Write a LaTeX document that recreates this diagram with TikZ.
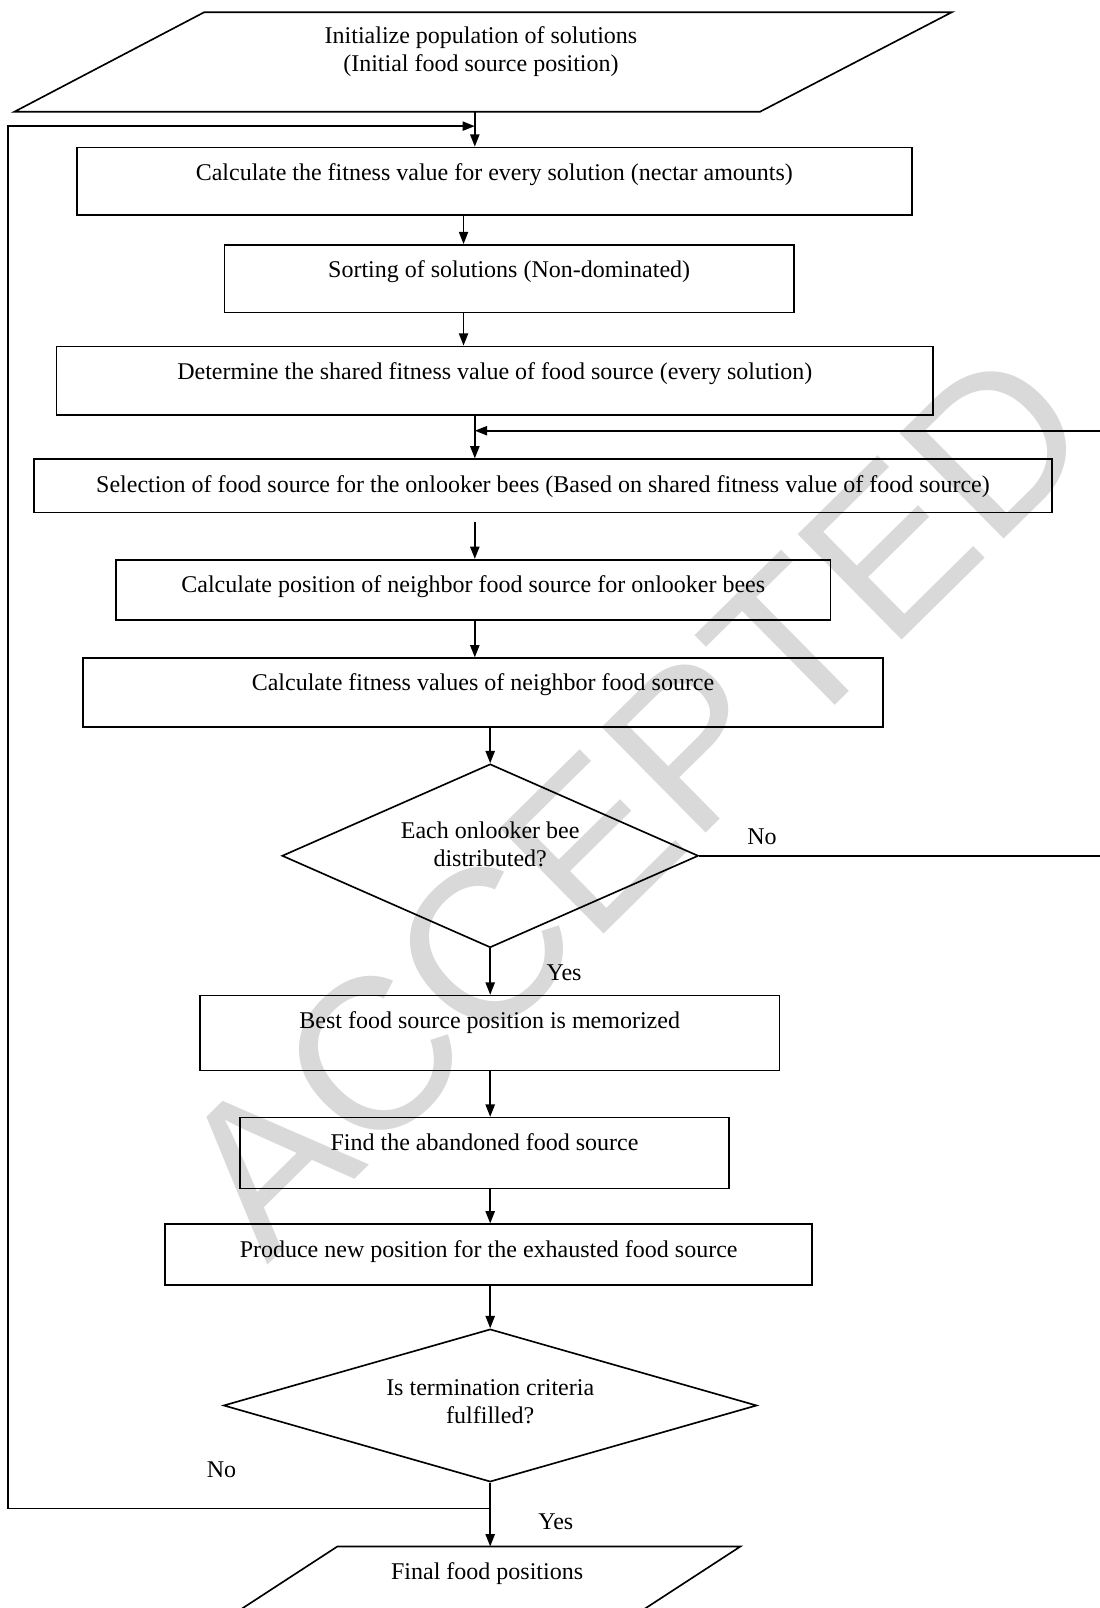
\documentclass[tikz,border=0pt]{standalone}
\usepackage{fontspec}
\setmainfont{Liberation Serif}
\newfontfamily\stampfont{Liberation Sans}
\usepackage{tikz}
\usetikzlibrary{shapes.geometric,arrows.meta,positioning}

\tikzset{
  flowline/.style={line width=0.8pt},
  arr/.style={flowline,-{Triangle[length=6pt,width=4.5pt]}},
  procbox/.style 2 args={draw,flowline,inner sep=0pt,text height=16pt,minimum width=#1,text depth=#2},
  decision/.style={draw,flowline,diamond,inner sep=0pt},
  lbl/.style={inner sep=0pt}
}

\begin{document}
\begin{tikzpicture}[x=0.5pt,y=-0.5pt,font=\fontsize{11.7pt}{13.5pt}\selectfont]
\useasboundingbox (0,0) rectangle (1072,1568);

%Text: watermark
\node[rotate=44.6,text=gray!30,font=\stampfont\fontsize{105pt}{105pt}\selectfont] (stamp) at (617,781) {ACCEPTED};

%Columns of the connectors
\coordinate (colA) at (452,0);
\coordinate (colB) at (463,0);
\coordinate (colC) at (478,0);
\coordinate (colL) at (8,0);
\coordinate (colR) at (1073,0);

%Shape: Parallelogram
\draw[flowline] (199,12) -- (928,12) -- (741,109) -- (14,109) -- cycle;
\node[align=center] (init) at (469,50.5) {Initialize population of solutions\\(Initial food source position)};
\coordinate (initbot) at (463,109);

%Shape: Rectangle
\node[procbox={407pt}{17pt},anchor=north] (fit) at (482,143) {Calculate the fitness value for every solution (nectar amounts)};
\node[procbox={277.5pt}{17pt},anchor=north] (sort) at (496.5,238) {Sorting of solutions (Non-dominated)};
\node[procbox={427.5pt}{17.5pt},anchor=north] (share) at (482.5,337) {Determine the shared fitness value of food source (every solution)};
\node[procbox={496.5pt}{10pt},anchor=north] (select) at (529.5,447) {Selection of food source for the onlooker bees (Based on shared fitness value of food source)};
\node[procbox={348.5pt}{13.5pt},anchor=north] (neigh) at (461.5,545) {Calculate position of neighbor food source for onlooker bees};
\node[procbox={390pt}{17.5pt},anchor=north] (nfit) at (471,641) {Calculate fitness values of neighbor food source};

%Shape: Diamond
\node[decision,minimum width=203pt,minimum height=89.5pt] (dist) at (478,834.5) {};
\node[align=center] (disttxt) at (478,823) {Each onlooker bee\\distributed?};

%Shape: Rectangle
\node[procbox={282.5pt}{20.5pt},anchor=north] (best) at (477.5,970) {Best food source position is memorized};
\node[procbox={238.5pt}{18.5pt},anchor=north] (aband) at (472.5,1089) {Find the abandoned food source};
\node[procbox={315.5pt}{13.5pt},anchor=north] (prod) at (476.5,1193) {Produce new position for the exhausted food source};

%Shape: Diamond
\node[decision,minimum width=260pt,minimum height=74.5pt] (term) at (478,1370.5) {};
\node[align=center] (termtxt) at (478,1367) {Is termination criteria\\fulfilled?};

%Shape: Parallelogram
\draw[flowline] (329,1508) -- (722,1508) -- (573,1605) -- (180,1605) -- cycle;
\node (final) at (475,1534) {Final food positions};
\coordinate (finaltop) at (478,1508);

%Straight Lines
\draw[arr] (initbot) -- (fit.north -| colB);
\draw[arr] (fit.south -| colA) -- (sort.north -| colA);
\draw[arr] (sort.south -| colA) -- (share.north -| colA);
\draw[arr] (share.south -| colB) -- (select.north -| colB);
\draw[arr] (select.south -| colB) ++(0,8) -- (neigh.north -| colB);
\draw[arr] (neigh.south -| colB) -- (nfit.north -| colB);
\draw[arr] (nfit.south -| colC) -- (dist.north);
\draw[arr] (dist.south) -- (best.north -| colC);
\draw[arr] (best.south -| colC) -- (aband.north -| colC);
\draw[arr] (aband.south -| colC) -- (prod.north -| colC);
\draw[arr] (prod.south -| colC) -- (term.north);
\draw[arr] (term.south) -- (finaltop);

%Loops back
\coordinate (loopin) at (463,123);
\coordinate (loopin2) at (463,420);
\draw[arr] (term.south) ++(0,25) -| (colL |- loopin) -- (loopin);
\draw[arr] (dist.east) -- (dist.east -| colR) |- (loopin2);

%Labels
\node[lbl] (no1) at (743,816) {No};
\node[lbl] (yes1) at (550,949) {Yes};
\node[lbl] (no2) at (216,1433) {No};
\node[lbl] (yes2) at (542,1484) {Yes};

\end{tikzpicture}
\end{document}
